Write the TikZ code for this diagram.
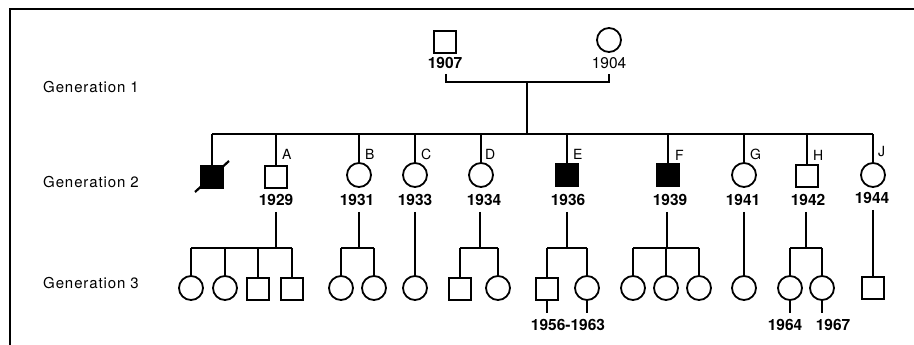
\documentclass[tikz,border=0pt]{standalone}
\usepackage{fontspec}
\setmainfont{TeX Gyre Heros}
\newfontfamily\genfont[LetterSpace=6]{TeX Gyre Heros}
\begin{document}
\begin{tikzpicture}[x=1pt,y=-1pt,
  ln/.style={line width=1.8pt},
  male/.style={draw, line width=1.8pt, minimum size=22pt, inner sep=0pt},
  female/.style={draw, circle, line width=1.8pt, minimum size=24pt, inner sep=0pt},
  aff/.style={fill=black},
  yr/.style={font=\bfseries\fontsize{15.5}{15.5}\selectfont, inner sep=0pt},
  yrl/.style={font=\fontsize{15.5}{15.5}\selectfont, inner sep=0pt},
  gen/.style={font=\genfont\fontsize{15}{15}\selectfont, anchor=west, inner sep=0pt},
  lab/.style={font=\fontsize{14}{14}\selectfont, anchor=west, inner sep=0pt}]
\useasboundingbox (0,0) rectangle (914,345);
% border
\coordinate (bTL) at (10,9);
\coordinate (bTR) at (914,9);
\coordinate (bBL) at (10,345);
\draw[line width=2pt] (bBL) -- (bTL) -- (bTR);
% generation labels
\node[gen] (gen1) at (43,87) {Generation 1};
\node[gen] (gen2) at (43,182) {Generation 2};
\node[gen] (gen3) at (43,283) {Generation 3};
% generation 1
\node[male] (p1) at (445,42) {};
\node[female] (p2) at (609,40) {};
\node[yr] (y1907) at (445,63) {1907};
\node[yrl] (y1904) at (609,63) {1904};
\coordinate (mL) at (446,82);
\coordinate (mR) at (609,82);
\coordinate (mC) at (527,82);
\draw[ln] ([yshift=-5pt]y1907.south -| mL) -- (mL) -- (mR) -- ([yshift=-5pt]y1904.south -| mR);
% sibling line generation 2
\coordinate (s2L) at (212,134);
\coordinate (s2R) at (873,134);
\coordinate (s2C) at (527,134);
\draw[ln] (mC) -- (s2C);
\draw[ln] (s2L) -- (s2R);
% generation 2 persons
\node[male,aff] (d0) at (212,177) {};
\node[male] (cA) at (276,177) {};
\node[female] (cB) at (359,175) {};
\node[female] (cC) at (415,175) {};
\node[female] (cD) at (481,175) {};
\node[male,aff] (cE) at (567,175) {};
\node[male,aff] (cF) at (668,175) {};
\node[female] (cG) at (744,175) {};
\node[male] (cH) at (807,176) {};
\node[female] (cJ) at (873,175) {};
\coordinate (dsA) at (195,192);
\coordinate (dsB) at (229,161);
\draw[line width=2.2pt] (dsA) -- (dsB);
\foreach \n in {d0,cA,cB,cC,cD,cE,cF,cG,cH,cJ}{
  \draw[ln] (\n.north) -- (\n |- s2L);
}
% letters
\node[lab] (lA) at (282,154) {A};
\node[lab] (lB) at (365,154) {B};
\node[lab] (lC) at (421,154) {C};
\node[lab] (lD) at (485,154) {D};
\node[lab] (lE) at (573,154) {E};
\node[lab] (lF) at (675,155) {F};
\node[lab] (lG) at (750,154) {G};
\node[lab] (lH) at (813,155) {H};
\node[lab] (lJ) at (878,152) {J};
% years
\node[yr] (yA) at (276,200) {1929};
\node[yr] (yB) at (357,200) {1931};
\node[yr] (yC) at (415,200) {1933};
\node[yr] (yD) at (484,200) {1934};
\node[yr] (yE) at (568,200) {1936};
\node[yr] (yF) at (670,200) {1939};
\node[yr] (yG) at (743,200) {1941};
\node[yr] (yH) at (808,200) {1942};
\node[yr] (yJ) at (872,198) {1944};
% generation 3
% A family
\node[female] (a1) at (191,288) {};
\node[female] (a2) at (225,288) {};
\node[male] (a3) at (258,289) {};
\node[male] (a4) at (292,289) {};
\coordinate (sA) at (276,248);
\coordinate (sAL) at (191,248);
\coordinate (sAR) at (292,248);
\draw[ln] ([yshift=-6pt]yA.south -| sA) -- (sA);
\draw[ln] (sAL) -- (sAR);
\foreach \n in {a1,a2,a3,a4}{\draw[ln] (\n.north) -- (\n |- sA);}
% B family
\node[female] (b1) at (341,288) {};
\node[female] (b2) at (374,288) {};
\coordinate (sB) at (359,248);
\draw[ln] ([yshift=-6pt]yB.south -| sB) -- (sB);
\draw[ln] (b1 |- sB) -- (b2 |- sB);
\foreach \n in {b1,b2}{\draw[ln] (\n.north) -- (\n |- sB);}
% C
\node[female] (c1) at (415,288) {};
\draw[ln] ([yshift=-6pt]yC.south -| c1) -- (c1.north);
% D family
\node[male] (d1) at (460,289) {};
\node[female] (d2) at (498,288) {};
\coordinate (sD) at (480,248);
\draw[ln] ([yshift=-6pt]yD.south -| sD) -- (sD);
\draw[ln] (d1 |- sD) -- (d2 |- sD);
\foreach \n in {d1,d2}{\draw[ln] (\n.north) -- (\n |- sD);}
% E family
\node[male] (e1) at (547,289) {};
\node[female] (e2) at (587,288) {};
\coordinate (sE) at (567,248);
\draw[ln] ([yshift=-6pt]yE.south -| sE) -- (sE);
\draw[ln] (e1 |- sE) -- (e2 |- sE);
\foreach \n in {e1,e2}{\draw[ln] (\n.north) -- (\n |- sE);}
\coordinate (e1t) at (547,313);
\coordinate (e2t) at (587,313);
\draw[ln] (e1.south) -- (e1t);
\draw[ln] (e2.south) -- (e2t);
\node[yr] (yE3) at (568,325) {1956-1963};
% F family
\node[female] (f1) at (633,288) {};
\node[female] (f2) at (666,288) {};
\node[female] (f3) at (699,288) {};
\coordinate (sF) at (667,248);
\draw[ln] ([yshift=-6pt]yF.south -| sF) -- (sF);
\draw[ln] (f1 |- sF) -- (f3 |- sF);
\foreach \n in {f1,f2,f3}{\draw[ln] (\n.north) -- (\n |- sF);}
% G
\node[female] (g1) at (744,288) {};
\draw[ln] ([yshift=-6pt]yG.south -| g1) -- (g1.north);
% H family
\node[female] (h1) at (790,288) {};
\node[female] (h2) at (822,288) {};
\coordinate (sH) at (806,248);
\draw[ln] ([yshift=-6pt]yH.south -| sH) -- (sH);
\draw[ln] (h1 |- sH) -- (h2 |- sH);
\foreach \n in {h1,h2}{\draw[ln] (\n.north) -- (\n |- sH);}
\coordinate (h1t) at (790,313);
\coordinate (h2t) at (822,313);
\draw[ln] (h1.south) -- (h1t);
\draw[ln] (h2.south) -- (h2t);
\node[yr] (yH1) at (785,325) {1964};
\node[yr] (yH2) at (833,325) {1967};
% J
\node[male] (j1) at (873,288) {};
\draw[ln] ([yshift=-6pt]yJ.south -| j1) -- (j1.north);
\end{tikzpicture}
\end{document}
